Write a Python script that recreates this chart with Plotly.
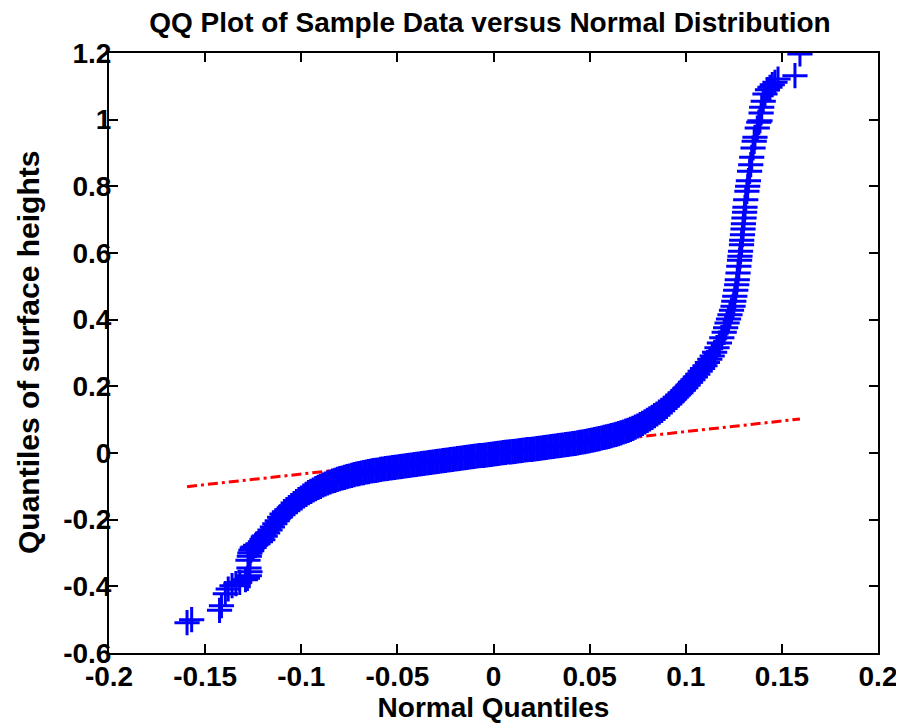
import plotly.graph_objects as go

# Sample quantiles (x = normal quantiles, y = quantiles of surface heights)
lower_tail_x = [-0.1594, -0.1570, -0.1425, -0.1415, -0.1395, -0.1380, -0.1360, -0.1340, -0.1320,
                -0.1290, -0.1280, -0.1270, -0.1267, -0.1272, -0.1277, -0.1270, -0.1267, -0.1262, -0.1255]
lower_tail_y = [-0.509, -0.500, -0.472, -0.458, -0.422, -0.408, -0.398, -0.392, -0.388,
                -0.380, -0.376, -0.368, -0.356, -0.345, -0.322, -0.310, -0.300, -0.292, -0.285]

body_x = [-0.12500, -0.12375, -0.12250, -0.12125, -0.12000, -0.11875, -0.11750, -0.11625, -0.11500, -0.11375,
          -0.11250, -0.11125, -0.11000, -0.10875, -0.10750, -0.10625, -0.10500, -0.10375, -0.10250, -0.10125,
          -0.10000, -0.09875, -0.09750, -0.09625, -0.09500, -0.09375, -0.09250, -0.09125, -0.09000, -0.08875,
          -0.08750, -0.08625, -0.08500, -0.08375, -0.08250, -0.08125, -0.08000, -0.07875, -0.07750, -0.07625,
          -0.07500, -0.07375, -0.07250, -0.07125, -0.07000, -0.06875, -0.06750, -0.06625, -0.06500, -0.06375,
          -0.06250, -0.06125, -0.06000, -0.05875, -0.05750, -0.05625, -0.05500, -0.05375, -0.05250, -0.05125,
          -0.05000, -0.04875, -0.04750, -0.04625, -0.04500, -0.04375, -0.04250, -0.04125, -0.04000, -0.03875,
          -0.03750, -0.03625, -0.03500, -0.03375, -0.03250, -0.03125, -0.03000, -0.02875, -0.02750, -0.02625,
          -0.02500, -0.02375, -0.02250, -0.02125, -0.02000, -0.01875, -0.01750, -0.01625, -0.01500, -0.01375,
          -0.01250, -0.01125, -0.01000, -0.00875, -0.00750, -0.00625, -0.00500, -0.00375, -0.00250, -0.00125,
          0.00000, 0.00125, 0.00250, 0.00375, 0.00500, 0.00625, 0.00750, 0.00875, 0.01000, 0.01125,
          0.01250, 0.01375, 0.01500, 0.01625, 0.01750, 0.01875, 0.02000, 0.02125, 0.02250, 0.02375,
          0.02500, 0.02625, 0.02750, 0.02875, 0.03000, 0.03125, 0.03250, 0.03375, 0.03500, 0.03625,
          0.03750, 0.03875, 0.04000, 0.04125, 0.04250, 0.04375, 0.04500, 0.04625, 0.04750, 0.04875,
          0.05000, 0.05125, 0.05250, 0.05375, 0.05500, 0.05625, 0.05750, 0.05875, 0.06000, 0.06125,
          0.06250, 0.06375, 0.06500, 0.06625, 0.06750, 0.06875, 0.07000, 0.07125, 0.07250, 0.07375,
          0.07500, 0.07625, 0.07750, 0.07875, 0.08000, 0.08125, 0.08250, 0.08375, 0.08500, 0.08625,
          0.08750, 0.08875, 0.09000, 0.09125, 0.09250, 0.09375, 0.09500, 0.09625, 0.09750, 0.09875,
          0.10000, 0.10125, 0.10250, 0.10375, 0.10500, 0.10625, 0.10750, 0.10875, 0.11000, 0.11125,
          0.11250, 0.11375, 0.11500, 0.11625, 0.11750, 0.11875, 0.12000, 0.12075, 0.12150, 0.12225,
          0.12300, 0.12380, 0.12460]
body_y = [-0.282, -0.277, -0.272, -0.266, -0.260, -0.250, -0.240, -0.231, -0.222, -0.212,
          -0.203, -0.193, -0.183, -0.176, -0.170, -0.164, -0.158, -0.152, -0.146, -0.140,
          -0.135, -0.129, -0.124, -0.119, -0.115, -0.111, -0.107, -0.103, -0.100, -0.096,
          -0.093, -0.090, -0.087, -0.084, -0.082, -0.079, -0.077, -0.075, -0.073, -0.071,
          -0.069, -0.067, -0.065, -0.063, -0.062, -0.060, -0.059, -0.057, -0.056, -0.054,
          -0.053, -0.052, -0.051, -0.049, -0.048, -0.047, -0.046, -0.045, -0.044, -0.043,
          -0.042, -0.041, -0.040, -0.039, -0.038, -0.037, -0.036, -0.035, -0.034, -0.033,
          -0.032, -0.031, -0.030, -0.029, -0.028, -0.027, -0.026, -0.025, -0.024, -0.023,
          -0.022, -0.021, -0.020, -0.019, -0.018, -0.017, -0.016, -0.015, -0.014, -0.013,
          -0.012, -0.011, -0.010, -0.009, -0.008, -0.0075, -0.007, -0.006, -0.005, -0.004,
          -0.003, -0.002, -0.001, 0.000, 0.001, 0.002, 0.003, 0.0035, 0.004, 0.005,
          0.006, 0.007, 0.008, 0.009, 0.010, 0.0105, 0.011, 0.012, 0.013, 0.014,
          0.015, 0.016, 0.017, 0.018, 0.019, 0.020, 0.021, 0.022, 0.023, 0.024,
          0.025, 0.026, 0.027, 0.028, 0.029, 0.0305, 0.032, 0.033, 0.034, 0.0355,
          0.037, 0.0385, 0.040, 0.0415, 0.043, 0.045, 0.047, 0.0485, 0.050, 0.052,
          0.054, 0.056, 0.058, 0.0605, 0.063, 0.0655, 0.068, 0.071, 0.074, 0.0775,
          0.081, 0.085, 0.089, 0.0935, 0.098, 0.1025, 0.107, 0.112, 0.117, 0.1225,
          0.128, 0.134, 0.140, 0.1465, 0.153, 0.160, 0.167, 0.174, 0.181, 0.1885,
          0.196, 0.204, 0.212, 0.220, 0.228, 0.2365, 0.245, 0.2535, 0.262, 0.2715,
          0.281, 0.291, 0.302, 0.316, 0.330, 0.346, 0.362, 0.376, 0.390, 0.402,
          0.415, 0.428, 0.440]

upper_tail_x = [0.1250, 0.1255, 0.1260, 0.1265, 0.1268, 0.1272, 0.1276, 0.1280, 0.1282, 0.1285,
                0.1290, 0.1291, 0.1295, 0.1298, 0.1300, 0.1303, 0.1306, 0.1308, 0.1312, 0.1318,
                0.1322, 0.1326, 0.1332, 0.1338, 0.1343, 0.1350, 0.1356, 0.1360, 0.1372, 0.1380,
                0.1386, 0.1392, 0.1395, 0.1403, 0.1412, 0.1425, 0.1438, 0.1450, 0.1464, 0.1480,
                0.1568, 0.1594]
upper_tail_y = [0.455, 0.470, 0.488, 0.505, 0.520, 0.540, 0.560, 0.578, 0.590, 0.605,
                0.625, 0.638, 0.655, 0.672, 0.688, 0.705, 0.722, 0.737, 0.760, 0.785,
                0.800, 0.817, 0.845, 0.865, 0.887, 0.915, 0.935, 0.947, 0.975, 0.992,
                0.997, 1.020, 1.037, 1.055, 1.077, 1.090, 1.097, 1.105, 1.112, 1.122,
                1.132, 1.197]

# Reference line (through the quartiles, extended to the data range)
ref_x = [-0.1594, 0.1594]
ref_y = [-0.101, 0.102]

x_ticks = [-0.2, -0.15, -0.1, -0.05, 0, 0.05, 0.1, 0.15, 0.2]
x_labels = ["-0.2", "-0.15", "-0.1", "-0.05", "0", "0.05", "0.1", "0.15", "0.2"]
y_ticks = [-0.6, -0.4, -0.2, 0, 0.2, 0.4, 0.6, 0.8, 1.0, 1.2]
y_labels = ["-0.6", "-0.4", "-0.2", "0", "0.2", "0.4", "0.6", "0.8", "1", "1.2"]

qx = lower_tail_x + body_x + upper_tail_x
qy = lower_tail_y + body_y + upper_tail_y

FONT = "Liberation Sans, Arial, sans-serif"
TICK_SIZE = 28
TITLE_SIZE = 28

fig = go.Figure()
fig.add_trace(go.Scatter(
    x=ref_x, y=ref_y, mode="lines",
    line=dict(color="#FF0000", width=3, dash="10px,4px,3px,4px"),
    showlegend=False, hoverinfo="skip"))
fig.add_trace(go.Scatter(
    x=qx, y=qy, mode="markers",
    marker=dict(symbol="cross-thin", size=18, color="#0000FF",
                line=dict(color="#0000FF", width=3)),
    showlegend=False))

axis_common = dict(
    showgrid=False, zeroline=False, showline=True, linecolor="black", linewidth=2,
    mirror="ticks", ticks="inside", ticklen=9, tickwidth=1.5, tickcolor="black",
    automargin=False,
    tickfont=dict(family=FONT, size=TICK_SIZE, color="black"),
)

fig.update_layout(
    width=904, height=727,
    paper_bgcolor="white", plot_bgcolor="white",
    margin=dict(l=101, r=34, t=45, b=82),
    title=dict(text="<b>QQ Plot of Sample Data versus Normal Distribution</b>",
               x=482 / 904, xanchor="center", y=1 - 14 / 727, yanchor="middle", yref="container",
               font=dict(family=FONT, size=TITLE_SIZE, color="black")),
    xaxis=dict(range=[-0.2, 0.2], tickvals=x_ticks,
               ticktext=["<b>%s</b>" % t for t in x_labels],
               ticklabelstandoff=-3,
               title=dict(text="<b>Normal Quantiles</b>", standoff=0,
                          font=dict(family=FONT, size=TITLE_SIZE, color="black")),
               **axis_common),
    yaxis=dict(range=[-0.6, 1.2], tickvals=y_ticks,
               ticktext=["<b>%s</b>" % t for t in y_labels],
               ticklabelstandoff=-10,
               **axis_common),
    annotations=[dict(
        text="<b>Quantiles of surface heights</b>", textangle=-90,
        xref="paper", yref="paper", x=(20 - 101) / 769, y=0.5,
        xanchor="center", yanchor="middle", showarrow=False,
        font=dict(family=FONT, size=30, color="black"))],
)

fig.write_html("out.html")
